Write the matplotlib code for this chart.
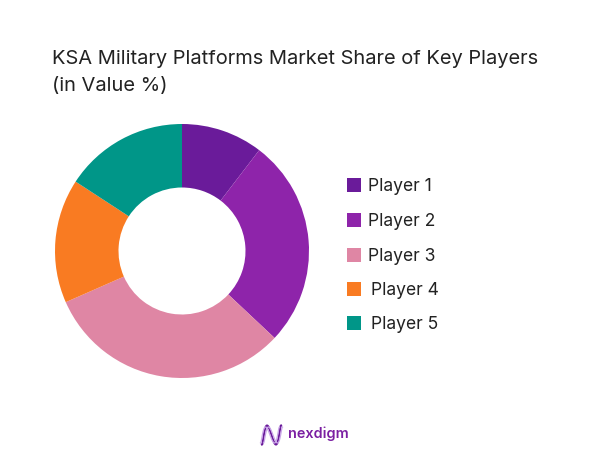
import numpy as np
import matplotlib
matplotlib.use('Agg')
import matplotlib.pyplot as plt
from matplotlib.patches import Rectangle

players = ['Player 1', 'Player 2', 'Player 3', 'Player 4', 'Player 5']
shares = [10.4, 26.6, 31.4, 15.8, 15.8]
colors = ['#6A1B9A', '#8E24AA', '#DF86A4', '#F97B22', '#009688']
title_lines = ['KSA Military Platforms Market Share of Key Players', '(in Value %)']

W, H = 602, 451
plt.rcParams['font.family'] = ['Inter', 'DejaVu Sans']

fig = plt.figure(figsize=(W / 100, H / 100), dpi=100, facecolor='white')


def fx(px):
    return px / W


def fy(py):
    return 1 - py / H


# Donut, axes box is exactly the outer circle
cx, cy, r = 182, 251, 127
ax = fig.add_axes([fx(cx - r), fy(cy + r), 2 * r / W, 2 * r / H])
ax.pie(shares, colors=colors, startangle=90, counterclock=False, radius=1,
       wedgeprops={'width': 0.5, 'linewidth': 0})
ax.set_xlim(-1, 1)
ax.set_ylim(-1, 1)

# Title
fig.text(fx(52), fy(59.5), title_lines[0], fontsize=14.45, color='#222222', va='center', ha='left')
fig.text(fx(52), fy(85.5), title_lines[1], fontsize=14.45, color='#222222', va='center', ha='left')

# Legend by hand, labels 4 and 5 sit slightly further right in the original
legend_y = [185, 220, 255, 289, 323]
label_x = [368, 368, 368, 371, 371]
for name, c, y, lx in zip(players, colors, legend_y, label_x):
    fig.add_artist(Rectangle((fx(347), fy(y + 7)), 14 / W, 14 / H, transform=fig.transFigure,
                             facecolor=c, edgecolor='none'))
    fig.text(fx(lx), fy(y + 1.5), name, fontsize=12.6, color='#222222', va='center', ha='left')

# Logo
u = np.linspace(0, 3 * np.pi, 80)
for amp, shift, col, lw in [(9.5, 0, '#6A1B9A', 1.5), (8, 1.5, '#C9A6E8', 0.9), (8, -1.5, '#C9A6E8', 0.9)]:
    xs = 262 + shift + 19 * (u / (3 * np.pi)) - 1.5 * np.sin(2 * u / 3)
    ys = 435 + amp * np.cos(u)
    fig.add_artist(plt.Line2D(fx(xs), fy(ys), transform=fig.transFigure, color=col, lw=lw))
fig.text(fx(288), fy(434), 'nexdigm', fontsize=10.4, color='#7B1FA2', va='center', ha='left',
         fontweight='semibold')

fig.savefig('out.png', dpi=100)
